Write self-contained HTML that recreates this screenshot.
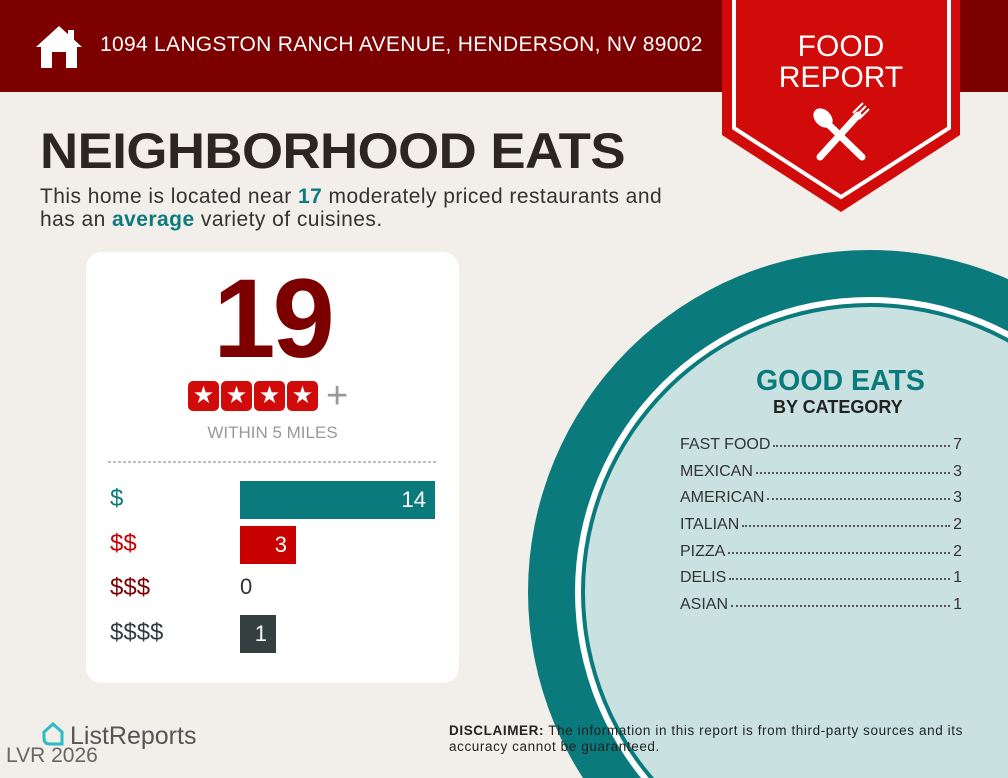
<!DOCTYPE html>
<html><head><meta charset="utf-8"><style>
*{margin:0;padding:0;box-sizing:border-box}
html,body{width:1008px;height:778px;overflow:hidden}
body{background:#f2eeea;font-family:"Liberation Sans",sans-serif;position:relative}
.abs{position:absolute}
.hdr{left:0;top:0;width:1008px;height:92px;background:#7d0000}
.addr{left:100px;top:33px;color:#fff;font-size:21px;letter-spacing:0.3px;white-space:nowrap}
h1{position:absolute;left:40px;top:122px;font-size:50px;font-weight:bold;color:#2b2624;letter-spacing:-0.5px;white-space:nowrap;transform:scaleX(1.055);transform-origin:left}
.sub{left:40px;top:185px;font-size:21px;color:#333;line-height:23px;letter-spacing:0.45px;white-space:nowrap}
.sub b{color:#0d7b7d}
.card{left:86px;top:252px;width:373px;height:431px;background:#fff;border-radius:16px}
.big{width:373px;top:264px;text-align:center;font-size:112px;font-weight:bold;color:#7d0000;letter-spacing:-3px;line-height:110px}
.lab{font-size:24px}
.bar{height:38px;color:#fff;font-size:22px;text-align:right;padding-right:9px;line-height:38px}
.cat{font-size:16px;color:#333;width:282px;display:flex;height:26.7px;align-items:baseline}
.cat .d{flex:1;border-bottom:2px dotted #555;margin:0 3px;transform:translateY(-2px)}
</style></head><body>
<div class="abs hdr"></div>
<svg class="abs" style="left:34px;top:24px" width="50" height="46" viewBox="0 0 50 46"><path d="M25 2 L48 23 L43 23 L43 44 L32 44 L32 28 L18 28 L18 44 L7 44 L7 23 L2 23 Z" fill="#fff"/><rect x="34" y="6" width="6" height="12" fill="#fff"/></svg>
<div class="abs addr">1094 LANGSTON RANCH AVENUE, HENDERSON, NV 89002</div>
<svg class="abs" style="left:0;top:0" width="1008" height="778">
<circle cx="870" cy="592" r="342" fill="#0b7a7c"/>
<circle cx="870" cy="592" r="295" fill="#fff"/>
<circle cx="870" cy="592" r="289" fill="#0b7a7c"/>
<circle cx="870" cy="592" r="285" fill="#c9e2e1"/>
<polygon points="722,0 960,0 960,135 841,212 722,135" fill="#d10a0a"/>
<polyline points="734,0 734,128 841,197 949,128 949,0" fill="none" stroke="#fff" stroke-width="4"/>
<g stroke="#fff" stroke-width="7" stroke-linecap="round"><line x1="820" y1="157" x2="858" y2="115"/><line x1="862" y1="157" x2="826" y2="122"/></g>
<ellipse cx="823" cy="118" rx="8" ry="11" fill="#fff" transform="rotate(-45 823 118)"/>
<g stroke="#fff" stroke-width="2"><line x1="856" y1="116" x2="866" y2="106"/><line x1="859" y1="119" x2="869" y2="109"/><line x1="853" y1="113" x2="863" y2="103"/></g>
</svg>
<div class="abs" style="left:722px;top:31px;width:238px;text-align:center;color:#fff;font-size:30px;line-height:31px">FOOD<br>REPORT</div>
<h1>NEIGHBORHOOD EATS</h1>
<div class="abs sub">This home is located near <b>17</b> moderately priced restaurants and<br>has an <b>average</b> variety of cuisines.</div>
<div class="abs card"></div>
<svg class="abs" style="left:0;top:0" width="500" height="500"><line x1="108" y1="462" x2="436" y2="462" stroke="#999" stroke-width="1.2" stroke-dasharray="3,2"/></svg>
<div class="abs big" style="left:86px">19</div>
<div class="abs" style="left:188px;top:381px;display:flex;gap:2px">
<div style="width:31px;height:30px;background:#d10a0a;border-radius:5px;color:#fff;font-size:24px;text-align:center;line-height:30px">★</div>
<div style="width:31px;height:30px;background:#d10a0a;border-radius:5px;color:#fff;font-size:24px;text-align:center;line-height:30px">★</div>
<div style="width:31px;height:30px;background:#d10a0a;border-radius:5px;color:#fff;font-size:24px;text-align:center;line-height:30px">★</div>
<div style="width:31px;height:30px;background:#d10a0a;border-radius:5px;color:#fff;font-size:24px;text-align:center;line-height:30px">★</div>
<div style="color:#999;font-size:38px;line-height:30px;margin-left:6px">+</div>
</div>
<div class="abs" style="left:86px;width:373px;top:423px;text-align:center;color:#999;font-size:17px">WITHIN 5 MILES</div>
<div class="abs lab" style="left:110px;top:485px;color:#0b7a7c">$</div>
<div class="abs lab" style="left:110px;top:530px;color:#c80000">$$</div>
<div class="abs lab" style="left:110px;top:574px;color:#7d0000">$$$</div>
<div class="abs lab" style="left:110px;top:619px;color:#333d3d">$$$$</div>
<div class="abs bar" style="left:240px;top:481px;width:195px;background:#0b7a7c">14</div>
<div class="abs bar" style="left:240px;top:526px;width:56px;background:#c80000">3</div>
<div class="abs" style="left:240px;top:574px;font-size:22px;color:#333">0</div>
<div class="abs bar" style="left:240px;top:615px;width:36px;background:#343f3f">1</div>
<div class="abs" style="left:756px;top:365px;font-size:28.5px;font-weight:bold;color:#0b7a7c">GOOD EATS</div>
<div class="abs" style="left:773px;top:397px;font-size:18px;font-weight:bold;color:#222">BY CATEGORY</div>
<div class="abs" style="left:680px;top:436px">
<div class="cat">FAST FOOD<span class="d"></span>7</div>
<div class="cat">MEXICAN<span class="d"></span>3</div>
<div class="cat">AMERICAN<span class="d"></span>3</div>
<div class="cat">ITALIAN<span class="d"></span>2</div>
<div class="cat">PIZZA<span class="d"></span>2</div>
<div class="cat">DELIS<span class="d"></span>1</div>
<div class="cat">ASIAN<span class="d"></span>1</div>
</div>
<div class="abs" style="left:449px;top:723px;font-size:13.5px;color:#222;line-height:16px;white-space:nowrap;letter-spacing:0.6px"><b>DISCLAIMER:</b> The information in this report is from third-party sources and its<br>accuracy cannot be guaranteed.</div>
<svg class="abs" style="left:40px;top:722px" width="26" height="28" viewBox="0 0 26 28"><path d="M4 10 L13 2 L22 10 L22 22 L10 22 Q4 22 4 16 Z" fill="none" stroke="#2bbcc4" stroke-width="3"/></svg>
<div class="abs" style="left:70px;top:722px;font-size:25px;color:#555">ListReports</div>
<div class="abs" style="left:6px;top:744px;font-size:21px;color:#666;line-height:24px">LVR 2026</div>
</body></html>
